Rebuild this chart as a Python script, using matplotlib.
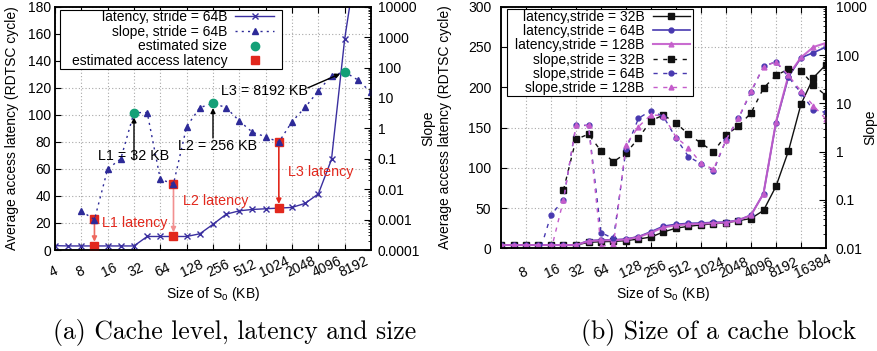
import matplotlib
matplotlib.use("Agg")
import matplotlib.pyplot as plt
import matplotlib.transforms as mtransforms
from matplotlib.path import Path
from matplotlib.ticker import LogLocator, NullLocator, NullFormatter
import numpy as np

plt.rcParams['font.family'] = ['Liberation Sans', 'DejaVu Sans']
plt.rcParams['font.size'] = 10
plt.rcParams['mathtext.fontset'] = 'custom'
plt.rcParams['mathtext.rm'] = 'Liberation Sans'
plt.rcParams['mathtext.it'] = 'Liberation Sans:italic'

nan = np.nan

# ---- (a) cache level, latency and size ----
sizes_a = [4, 5.66, 8, 11.3, 16, 22.6, 32, 45.3, 64, 90.5, 128, 181, 256, 362, 512,
           724, 1024, 1448, 2048, 2896, 4096, 5793, 8192, 11585, 16384]
latency_a = [3.2, 3, 3, 3, 3, 3, 3, 10, 10, 10, 10, 12, 19, 26.5, 29,
             30, 30.5, 31, 31.5, 34.5, 41.5, 67, 156, 220, 260]
slope_a = [nan, nan, 0.0019, 0.001, 0.046, 0.1, 3.3, 3.3, 0.021, 0.015, 1.15, 4.8, 6.7, 4.8, 1.75,
           0.74, 0.53, 0.35, 1.66, 4.9, 17, 54, 72, 39, 15.4]
est_size_kb = [32, 256, 8192]
est_size_slope = [3.3, 6.7, 72]
est_size_text = ['L1 = 32 KB', 'L2 = 256 KB', 'L3 = 8192 KB']
est_lat_kb = [11.3, 90.5, 1448]
est_lat_mark = [23, 49, 80]
est_lat_value = [3, 10, 31]
est_lat_text = ['L1 latency', 'L2 latency', 'L3 latency']

xticks_a = [4, 8, 16, 32, 64, 128, 256, 512, 1024, 2048, 4096, 8192]
slope_ticks_a = [1e-4, 1e-3, 1e-2, 1e-1, 1, 10, 100, 1000, 10000]
slope_labels_a = ['0.0001', '0.001', '0.01', '0.1', '1', '10', '100', '1000', '10000']

# ---- (b) size of a cache block ----
sizes_b = [4, 5.66, 8, 11.3, 16, 22.6, 32, 45.3, 64, 90.5, 128, 181, 256, 362, 512,
           724, 1024, 1448, 2048, 2896, 4096, 5793, 8192, 11585, 16384, 23170, 32768]
lat32 = [4, 4, 4, 4, 4, 4, 4, 7.4, 8.2, 8.5, 9.5, 11.5, 14, 20.3, 25,
         27.3, 29, 30.5, 31.6, 34.3, 37, 47, 77, 121, 179, 212, 228]
lat64 = [4, 4, 4, 4, 4, 4, 4, 9.5, 10.3, 10.5, 11.5, 14.5, 20.6, 27.5, 29.8,
         31, 31.4, 32.2, 32.6, 35, 41.3, 68, 156, 213, 236.6, 243, 250]
lat128 = [4, 4, 4, 4, 4, 4, 4, 9, 9.8, 10, 11, 14, 19.5, 26, 28.5,
          29.8, 30.5, 31.3, 32, 34.8, 41, 68, 157, 215, 237, 250, 255]
slope32 = [nan, nan, nan, nan, nan, 0.16, 1.8, 2.3, 1.03, 0.62, 0.93, 1.9, 4.4, 5.7, 3.9,
           2.3, 1.5, 1.0, 2.2, 3.4, 6.3, 20.6, 38, 51, 47, 24, 14.4]
slope64 = [nan, nan, nan, 0.007, 0.049, 0.10, 3.5, 3.5, 0.021, 0.016, 1.12, 4.9, 7.1, 5.3, 1.9,
           0.79, 0.56, 0.40, 1.75, 4.9, 17, 58, 73, 35, 16.4, 7.2, 6.5]
slope128 = [nan, nan, nan, nan, 0.009, 0.10, 3.5, 3.5, 0.011, 0.012, 1.38, 3.3, 5.8, 5.5, 2.0,
            1.2, 0.58, 0.43, 1.75, 5.0, 18, 57, 73, 38, 17.7, 8.9, 4.7]

xticks_b = [8, 16, 32, 64, 128, 256, 512, 1024, 2048, 4096, 8192, 16384]
slope_ticks_b = [0.01, 0.1, 1, 10, 100, 1000]
slope_labels_b = ['0.01', '0.1', '1', '10', '100', '1000']

c_lat = '#3a2f9f'
c_slope = '#2d2a98'
c_green = '#14a077'
c_red = '#e2281d'
c_black = '#111111'
c_blue = '#4839b0'
c_mag = '#c45ccb'
grid_kw = dict(color='#a8a8a8', linestyle=(0, (1, 2)), linewidth=0.8)

fig = plt.figure(figsize=(8.77, 3.51), dpi=100)


def frame_style(padl, padr, pady):
    # gnuplot-like key box: wide side margins, tight top/bottom
    def box(x0, y0, width, height, mutation_size):
        return Path([(x0 - padl, y0 - pady), (x0 + width + padr, y0 - pady),
                     (x0 + width + padr, y0 + height + pady),
                     (x0 - padl, y0 + height + pady), (x0 - padl, y0 - pady)], closed=True)
    return box


def style_axes(ax, axr, xticks, label_dx, label_pad):
    ax.set_xscale('log', base=2)
    axr.set_yscale('log')
    ax.tick_params(axis='both', direction='in', length=4, width=0.8, top=True, right=False)
    ax.tick_params(axis='x', pad=label_pad)
    ax.tick_params(axis='y', pad=3)
    axr.tick_params(axis='y', which='major', direction='in', length=5, width=0.8, pad=5)
    axr.tick_params(axis='y', which='minor', direction='in', length=2.5, width=0.6)
    ax.set_xticks(xticks, labels=[str(v) for v in xticks])
    ax.xaxis.set_minor_locator(NullLocator())
    offset = mtransforms.ScaledTranslation(label_dx, 0, fig.dpi_scale_trans)
    for lab in ax.get_xticklabels():
        lab.set_rotation(25)
        lab.set_ha('left')
        lab.set_va('bottom')
        lab.set_transform(lab.get_transform() + offset)
    axr.yaxis.set_minor_locator(LogLocator(base=10, subs=np.arange(2, 10), numticks=100))
    axr.yaxis.set_minor_formatter(NullFormatter())
    ax.grid(True, **grid_kw)
    for a in (ax, axr):
        for s in a.spines.values():
            s.set_linewidth(1.1)


# ================= (a) =================
ax = fig.add_axes([55 / 877, 1 - 250 / 351, 316 / 877, 243.3 / 351])
ax2 = ax.twinx()
style_axes(ax, ax2, xticks_a, -0.08, 21.5)
ax.set_xlim(4, 16384)
ax.set_ylim(0, 180)
ax.set_yticks(range(0, 181, 20))
ax2.set_ylim(1e-4, 1e4)
ax2.set_yticks(slope_ticks_a, labels=slope_labels_a)

l_lat, = ax.plot(sizes_a, latency_a, color=c_lat, marker='x', ms=4.5, mew=1.0, lw=1.0)
l_est, = ax.plot(est_lat_kb, est_lat_mark, 's', color=c_red, ms=6, zorder=5)
ax.plot(est_lat_kb, est_lat_value, 's', color=c_red, ms=6, zorder=5)
arrow_cols = ['#ee6a60', '#f29090', '#e2281d']
for x, top, bot, col in zip(est_lat_kb, est_lat_mark, est_lat_value, arrow_cols):
    ax.annotate('', xy=(x, bot), xytext=(x, top),
                arrowprops=dict(arrowstyle='-|>', color=col, lw=1.2, shrinkA=3,
                                shrinkB=3, mutation_scale=7))
red_offsets = [(5.5, -3), (7, -12.5), (6.5, -21.5)]
for x, top, txt, off in zip(est_lat_kb, est_lat_mark, est_lat_text, red_offsets):
    ax.annotate(txt, xy=(x, top), xytext=off, textcoords='offset points',
                color=c_red, ha='left', va='center', fontsize=10.3)

l_slope, = ax2.plot(sizes_a, slope_a, color=c_slope, marker='^', ms=4, lw=1.0,
                    ls=(0, (1.5, 3)))
l_size, = ax2.plot(est_size_kb, est_size_slope, 'o', color=c_green, ms=6, zorder=5)
text_offsets = [(0, -31), (3.5, -30.5), (-58, -13.5)]
tail_offsets = [(0, -34), (0, -25), (-26.5, -11.5)]
for x, s, txt, toff, aoff in zip(est_size_kb, est_size_slope, est_size_text,
                                 text_offsets, tail_offsets):
    ax2.annotate(txt, xy=(x, s), xytext=toff, textcoords='offset points',
                 ha='center', va='center', fontsize=10.3)
    ax2.annotate('', xy=(x, s), xytext=aoff, textcoords='offset points',
                 arrowprops=dict(arrowstyle='-|>', color='black', lw=1.0, shrinkA=0,
                                 shrinkB=3.5, mutation_scale=7))

leg = ax2.legend([l_lat, l_slope, l_size, l_est],
                 ['latency, stride = 64B', 'slope, stride = 64B', 'estimated size',
                  'estimated access latency'],
                 loc='upper left', bbox_to_anchor=(0.0528, 0.985), borderaxespad=0,
                 markerfirst=False, fancybox=False, edgecolor='black', framealpha=1,
                 handlelength=2.8, handletextpad=0.58, labelspacing=0.04, borderpad=0,
                 fontsize=10)
leg.get_frame().set_linewidth(0.8)
leg.get_frame().set_boxstyle(frame_style(11.5, 8, 0.5))

ax.set_ylabel('Average access latency (RDTSC cycle)')
ax.yaxis.set_label_coords(-0.1155, 0.5)
ax2.set_ylabel('Slope')
ax2.yaxis.set_label_coords(1.16, 0.5)
ax.set_xlabel('Size of S$_{\\mathrm{o}}$ (KB)', va='top')
ax.xaxis.set_label_coords(0.5, -0.144)

# ================= (b) =================
bx = fig.add_axes([501 / 877, 1 - 248.3 / 351, 325 / 877, 241.6 / 351])
bx2 = bx.twinx()
style_axes(bx, bx2, xticks_b, -0.09, 23)
bx.set_xlim(4, 32768)
bx.set_ylim(0, 300)
bx.set_yticks(range(0, 301, 50))
bx.tick_params(axis='y', pad=7)
bx2.set_ylim(0.01, 1000)
bx2.set_yticks(slope_ticks_b, labels=slope_labels_b)
bx2.tick_params(axis='y', which='major', pad=7)

h1, = bx.plot(sizes_b, lat32, color=c_black, marker='s', ms=4.2, lw=1.0)
h2, = bx.plot(sizes_b, lat64, color=c_blue, marker='o', ms=3.5, lw=1.2)
h3, = bx.plot(sizes_b, lat128, color=c_mag, marker='^', ms=3.5, lw=1.5, alpha=0.9)
h4, = bx2.plot(sizes_b, slope32, color=c_black, marker='s', ms=4.2, lw=1.0, ls=(0, (3, 4)))
h5, = bx2.plot(sizes_b, slope64, color=c_blue, marker='o', ms=3.5, lw=1.0, ls=(0, (3, 4)))
h6, = bx2.plot(sizes_b, slope128, color=c_mag, marker='^', ms=3.5, lw=1.0, ls=(0, (3, 4)))

leg2 = bx2.legend([h1, h2, h3, h4, h5, h6],
                  ['latency,stride = 32B', 'latency,stride = 64B', 'latency,stride = 128B',
                   'slope,stride = 32B', 'slope,stride = 64B', 'slope,stride = 128B'],
                  loc='upper left', bbox_to_anchor=(0.0431, 0.9876), borderaxespad=0,
                  markerfirst=False, fancybox=False, edgecolor='black', framealpha=1,
                  handlelength=2.6, handletextpad=0.65, labelspacing=0.02, borderpad=0,
                  fontsize=10)
leg2.get_frame().set_linewidth(0.8)
leg2.get_frame().set_boxstyle(frame_style(8.3, 3, 0.5))

bx.set_ylabel('Average access latency (RDTSC cycle)')
bx.yaxis.set_label_coords(-0.151, 0.5)
bx2.set_ylabel('Slope')
bx2.yaxis.set_label_coords(1.115, 0.5)
bx.set_xlabel('Size of S$_{\\mathrm{o}}$ (KB)', va='top')
bx.xaxis.set_label_coords(0.5, -0.152)

# captions
fig.text(235 / 877, 1 - 333 / 351, '(a) Cache level, latency and size',
         family='cmr10', fontsize=18.5, ha='center', va='center')
fig.text(719 / 877, 1 - 333 / 351, '(b) Size of a cache block',
         family='cmr10', fontsize=18.5, ha='center', va='center')

fig.savefig('out.png', dpi=100)
